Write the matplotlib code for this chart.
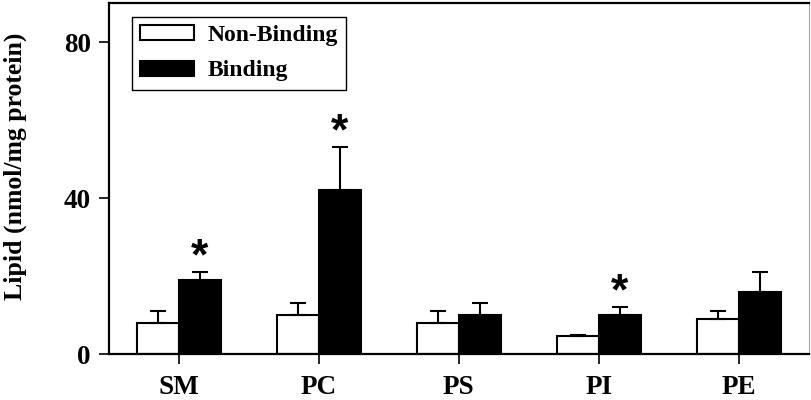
import matplotlib.pyplot as plt
import numpy as np

lipids = ["SM", "PC", "PS", "PI", "PE"]
non_binding = [8, 10, 8, 4.6, 9]
non_binding_err = [3, 3, 3, 0.3, 2]
binding = [19, 42, 10, 10, 16]
binding_err = [2, 11, 3, 2, 5]
significant = [True, True, False, True, False]

plt.rcParams["font.family"] = ["Liberation Serif", "DejaVu Serif"]
plt.rcParams["font.weight"] = "bold"

fig = plt.figure(figsize=(8.12, 4.0), dpi=100)
ax = fig.add_axes([0.134, 0.115, 0.862, 0.8775])

x = np.arange(len(lipids))
w = 0.3

err_style = dict(ecolor="black", elinewidth=1.5, capsize=5.5, capthick=1.5)
ax.bar(x - w / 2, non_binding, w, color="white", edgecolor="black",
       linewidth=1.5, label="Non-Binding",
       yerr=[np.zeros(len(x)), non_binding_err], error_kw=err_style)
ax.bar(x + w / 2, binding, w, color="black", edgecolor="black",
       linewidth=1.5, label="Binding",
       yerr=[np.zeros(len(x)), binding_err], error_kw=err_style)

# asterisks above significant binding bars
for i, sig in enumerate(significant):
    if sig:
        ax.text(x[i] + w / 2, binding[i] + binding_err[i] - 1.5, "*",
                ha="center", va="bottom", fontsize=32, fontweight="bold",
                family="Liberation Sans")

ax.set_xlim(-0.5, 4.5)
ax.set_ylim(0, 90)
ax.set_yticks([0, 40, 80])
ax.set_xticks(x)
ax.set_xticklabels(lipids)
ax.tick_params(axis="both", labelsize=19.5, width=1.2, length=7, direction="out")
ax.tick_params(axis="y", pad=6)
ax.tick_params(axis="x", pad=8)
ax.set_ylabel("Lipid (nmol/mg protein)", fontsize=18.5, fontweight="bold")
ax.yaxis.set_label_coords(-0.117, 0.534)

for s in ["left", "bottom", "top"]:
    ax.spines[s].set_linewidth(1.6)
ax.spines["right"].set_color("#aaaaaa")
ax.spines["right"].set_linewidth(0.8)

leg = ax.legend(loc="upper left", bbox_to_anchor=(0.033, 0.96),
                handlelength=2.3, handleheight=0.6, handletextpad=0.55,
                fancybox=False, framealpha=1, borderpad=0.35,
                labelspacing=0.6, borderaxespad=0,
                prop={"weight": "bold", "size": 17})
leg.get_frame().set_edgecolor("black")
leg.get_frame().set_linewidth(1.0)

fig.savefig("out.png", dpi=100)
